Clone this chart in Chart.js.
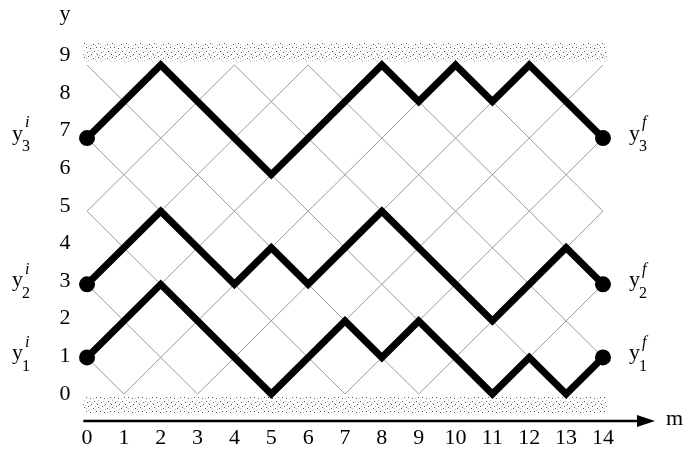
<!DOCTYPE html>
<html>
<head>
<meta charset="utf-8">
<script src="https://cdn.jsdelivr.net/npm/chart.js@4/dist/chart.umd.min.js"></script>
<style>
  html, body { margin: 0; padding: 0; background: #fff; }
</style>
</head>
<body>
<canvas id="myChart" width="689" height="454"></canvas>
<script>
// tick labels
const mTicks = [0, 1, 2, 3, 4, 5, 6, 7, 8, 9, 10, 11, 12, 13, 14]
const yTicks = [0, 1, 2, 3, 4, 5, 6, 7, 8, 9]

// the three paths (m, y)
const path1M = [0, 2, 5, 7, 8, 9, 11, 12, 13, 14]
const path1Y = [1, 3, 0, 2, 1, 2, 0, 1, 0, 1]
const path2M = [0, 2, 4, 5, 6, 8, 11, 13, 14]
const path2Y = [3, 5, 3, 4, 3, 5, 2, 4, 3]
const path3M = [0, 2, 5, 8, 9, 10, 11, 12, 14]
const path3Y = [7, 9, 6, 9, 8, 9, 8, 9, 7]

const pathLabels = ['1', '2', '3']

const SERIF = '"Liberation Serif", "DejaVu Serif", serif'

const toPoints = (ms, ys) => ms.map((m, i) => ({ x: m, y: ys[i] }))

// stipple pattern for the walls
const makePattern = ctx => {
  const p = document.createElement('canvas')
  p.width = 14
  p.height = 14
  const pc = p.getContext('2d')
  pc.fillStyle = '#fff'
  pc.fillRect(0, 0, 14, 14)
  pc.fillStyle = '#555'
  const dots = [[0, 1], [4, 0], [9, 2], [12, 5], [2, 5], [6, 6], [10, 9], [3, 10], [7, 12], [13, 12]]
  dots.forEach(d => pc.fillRect(d[0], d[1], 1, 1))
  pc.fillStyle = '#bbb'
  const light = [[2, 2], [7, 3], [11, 0], [0, 8], [5, 9], [9, 6], [12, 11], [1, 13], [4, 4], [8, 10], [11, 3], [6, 13]]
  light.forEach(d => pc.fillRect(d[0], d[1], 1, 1))
  return ctx.createPattern(p, 'repeat')
}

const latticePlugin = {
  id: 'lattice',
  beforeDatasetsDraw(chart) {
    const { ctx, scales: { x, y } } = chart
    const mMax = mTicks[mTicks.length - 1]
    const yMax = yTicks[yTicks.length - 1]
    ctx.save()

    // walls
    ctx.fillStyle = makePattern(ctx)
    const wl = x.getPixelForValue(-0.1), wr = x.getPixelForValue(mMax + 0.1)
    const topA = y.getPixelForValue(yMax + 0.6), topB = y.getPixelForValue(yMax + 0.1)
    const botA = y.getPixelForValue(-0.08), botB = y.getPixelForValue(-0.55)
    ctx.fillRect(wl, topA, wr - wl, topB - topA)
    ctx.fillRect(wl, botA, wr - wl, botB - botA)

    // diagonal grid
    ctx.strokeStyle = '#9a9a9a'
    ctx.lineWidth = 1
    ctx.beginPath()
    for (let c = -mMax; c <= yMax; c++) {
      if (Math.abs(c) % 2 !== 1) continue
      // y = m + c
      const m0 = Math.max(0, -c), m1 = Math.min(mMax, yMax - c)
      if (m1 <= m0) continue
      ctx.moveTo(x.getPixelForValue(m0), y.getPixelForValue(m0 + c))
      ctx.lineTo(x.getPixelForValue(m1), y.getPixelForValue(m1 + c))
    }
    for (let c = 1; c <= mMax + yMax; c += 2) {
      // y = -m + c
      const m0 = Math.max(0, c - yMax), m1 = Math.min(mMax, c)
      if (m1 <= m0) continue
      ctx.moveTo(x.getPixelForValue(m0), y.getPixelForValue(c - m0))
      ctx.lineTo(x.getPixelForValue(m1), y.getPixelForValue(c - m1))
    }
    ctx.stroke()
    ctx.restore()
  },
  afterDraw(chart) {
    const { ctx, scales: { x, y } } = chart
    ctx.save()
    ctx.fillStyle = '#000'
    ctx.strokeStyle = '#000'

    // m axis with arrow
    const ay = y.getPixelForValue(0) + 27
    const ax0 = x.getPixelForValue(-0.1)
    const ax1 = 655
    ctx.lineWidth = 2.5
    ctx.beginPath()
    ctx.moveTo(ax0, ay)
    ctx.lineTo(ax1 - 12, ay)
    ctx.stroke()
    ctx.beginPath()
    ctx.moveTo(ax1, ay)
    ctx.lineTo(ax1 - 18, ay - 6)
    ctx.lineTo(ax1 - 18, ay + 6)
    ctx.closePath()
    ctx.fill()

    ctx.font = '22px ' + SERIF
    ctx.textAlign = 'left'
    ctx.textBaseline = 'middle'
    ctx.fillText('m', 666, ay - 2)

    // tick labels
    ctx.textAlign = 'center'
    mTicks.forEach(v => ctx.fillText(String(v), x.getPixelForValue(v), ay + 17))
    yTicks.forEach(v => {
      const py = y.getPixelForValue(v) + (v - 0) * (-1.1)
      ctx.fillText(String(v), 65, py)
    })
    ctx.fillText('y', 65, 14)

    // end labels
    const drawLabel = (px, py, sub, sup) => {
      ctx.textAlign = 'left'
      ctx.font = '22px ' + SERIF
      ctx.fillText('y', px, py - 4)
      const w = ctx.measureText('y').width
      ctx.font = '16px ' + SERIF
      ctx.fillText(sub, px + w - 1, py + 9)
      ctx.font = 'italic 16px ' + SERIF
      ctx.fillText(sup, px + w + 2, py - 15)
    }
    const starts = [path1Y[0], path2Y[0], path3Y[0]]
    const ends = [path1Y[path1Y.length - 1], path2Y[path2Y.length - 1], path3Y[path3Y.length - 1]]
    starts.forEach((v, i) => drawLabel(12, y.getPixelForValue(v), pathLabels[i], 'i'))
    ends.forEach((v, i) => drawLabel(629, y.getPixelForValue(v), pathLabels[i], 'f'))
    ctx.restore()
  }
}

const pathStyle = pts => ({
  data: pts,
  showLine: true,
  borderColor: '#000',
  backgroundColor: '#000',
  borderWidth: 7,
  borderJoinStyle: 'miter',
  pointRadius: ctx => (ctx.dataIndex === 0 || ctx.dataIndex === pts.length - 1) ? 8 : 0,
  pointHoverRadius: 0,
  pointBorderWidth: 0,
  clip: false
})

new Chart(document.getElementById('myChart').getContext('2d'), {
  type: 'scatter',
  data: {
    datasets: [
      pathStyle(toPoints(path1M, path1Y)),
      pathStyle(toPoints(path2M, path2Y)),
      pathStyle(toPoints(path3M, path3Y))
    ]
  },
  options: {
    responsive: false,
    animation: false,
    devicePixelRatio: 1,
    layout: { padding: { left: 68.6, right: 67.6, top: 39.4, bottom: 34.4 } },
    plugins: { legend: { display: false }, tooltip: { enabled: false } },
    scales: {
      x: { type: 'linear', min: -0.5, max: 14.5, display: false },
      y: { type: 'linear', min: -0.7, max: 9.7, display: false }
    }
  },
  plugins: [latticePlugin]
})
</script>
</body>
</html>
